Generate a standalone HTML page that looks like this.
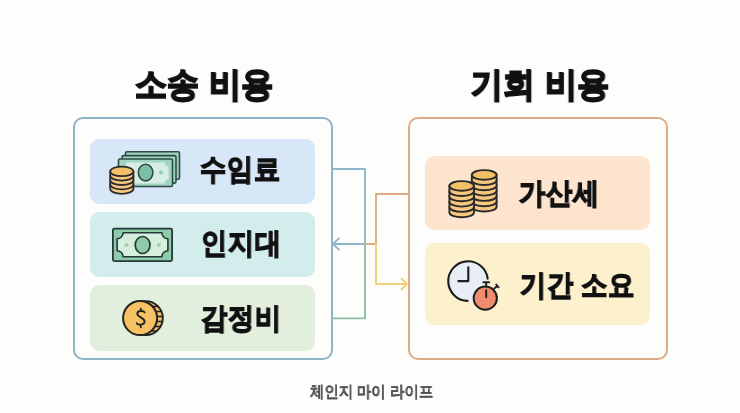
<!DOCTYPE html>
<html><head><meta charset="utf-8">
<style>
html,body{margin:0;padding:0;}
body{width:740px;height:413px;background:#fdfdfc;position:relative;overflow:hidden;font-family:"Liberation Sans",sans-serif;color:#111;}
.t{position:absolute;white-space:nowrap;line-height:1;transform-origin:0 0;will-change:transform;}
.box{position:absolute;box-sizing:border-box;border-radius:10px;}
.card{position:absolute;border-radius:9px;}
svg{position:absolute;left:0;top:0;}
</style></head>
<body>
<div class="t" style="left:135px;top:67px;font-size:34px;letter-spacing:0.4px;word-spacing:0px;-webkit-text-stroke:2.0px #111;color:#111;font-weight:700;transform:scaleX(0.94);">소송 비용</div>
<div class="t" style="left:471px;top:67px;font-size:34px;letter-spacing:0.4px;word-spacing:0px;-webkit-text-stroke:2.0px #111;color:#111;font-weight:700;transform:scaleX(0.94);">기회 비용</div>

<div class="box" style="left:73px;top:117px;width:260px;height:242.5px;border:2px solid #8db5c8;"></div>
<div class="box" style="left:408px;top:117px;width:260px;height:242.5px;border:2px solid #dcab88;"></div>

<div class="card" style="left:90px;top:139px;width:225px;height:65px;background:#d8e7f7;"></div>
<div class="card" style="left:90px;top:212px;width:225px;height:65px;background:#d2edec;"></div>
<div class="card" style="left:90px;top:285px;width:225px;height:66px;background:#e2efdc;"></div>

<div class="card" style="left:425px;top:156px;width:225px;height:74px;background:#fde4cf;"></div>
<div class="card" style="left:425px;top:243px;width:225px;height:82px;background:#fdf1cd;"></div>

<div class="t" style="left:200px;top:154.5px;font-size:28.5px;letter-spacing:0.8px;word-spacing:0px;-webkit-text-stroke:1.5px #111;color:#111;font-weight:700;transform:scaleX(0.9);">수임료</div>
<div class="t" style="left:200.5px;top:228.5px;font-size:28.5px;letter-spacing:0.8px;word-spacing:0px;-webkit-text-stroke:1.5px #111;color:#111;font-weight:700;transform:scaleX(0.9);">인지대</div>
<div class="t" style="left:200.5px;top:303.5px;font-size:28.5px;letter-spacing:0.8px;word-spacing:0px;-webkit-text-stroke:1.5px #111;color:#111;font-weight:700;transform:scaleX(0.9);">감정비</div>
<div class="t" style="left:519px;top:178.5px;font-size:28.5px;letter-spacing:0.8px;word-spacing:0px;-webkit-text-stroke:1.5px #111;color:#111;font-weight:700;transform:scaleX(0.9);">가산세</div>
<div class="t" style="left:519.5px;top:270.5px;font-size:28.5px;letter-spacing:0.8px;word-spacing:0px;-webkit-text-stroke:1.5px #111;color:#111;font-weight:700;transform:scaleX(0.9);">기간 소요</div>

<div class="t" style="left:310px;top:383.8px;font-size:15.5px;letter-spacing:0px;word-spacing:0px;-webkit-text-stroke:0.2px #555;color:#555;font-weight:700;transform:scaleX(0.9);">체인지 마이 라이프</div>

<svg width="740" height="413" viewBox="0 0 740 413" fill="none" stroke-width="1.9" stroke-linecap="round" stroke-linejoin="round">
<path d="M332 169 H365 V244" stroke="#8fb6ca"/>
<path d="M365 244 V318.4 H332" stroke="#8dc0a2"/>
<path d="M365 244 H333 M339 238.4 L333 244 L339 249.6" stroke="#8fb6ca"/>
<path d="M409 194 H376 V244 H365" stroke="#e0aa84"/>
<path d="M376 244 V284 H407 M401.5 278.5 L407 284 L401.5 289.5" stroke="#f2d07c"/>
<g>
<rect x="125.5" y="151.8" width="54" height="27.5" rx="1.5" fill="#a2d5c1" stroke="#2e4a46" stroke-width="1.6"/>
<rect x="122" y="155.6" width="54" height="27.5" rx="1.5" fill="#a2d5c1" stroke="#2e4a46" stroke-width="1.6"/>
<rect x="118.5" y="159" width="54" height="27.5" rx="1.5" fill="#a2d5c1" stroke="#2e4a46" stroke-width="1.6"/>
<path d="M126.5 162.5 H164.5 A4 4 0 0 0 168.5 166.5 V179.5 A4 4 0 0 0 164.5 183.5 H126.5 A4 4 0 0 0 122.5 179.5 V166.5 A4 4 0 0 0 126.5 162.5 Z" fill="#d8eee5"/>
<ellipse cx="145.6" cy="172.6" rx="7.3" ry="8.3" fill="#7cc0a6" stroke="#2e4a46" stroke-width="1.6"/>
<circle cx="161" cy="172.5" r="2" fill="#8fcab3"/>
<path d="M110.20 184.60 V189.00 A11.6 4.8 0 0 0 133.40 189.00 V184.60 Z" fill="#f5c77f" stroke="#2b2b2b" stroke-width="1.8"/>
<path d="M110.20 180.20 V184.60 A11.6 4.8 0 0 0 133.40 184.60 V180.20 Z" fill="#f5c77f" stroke="#2b2b2b" stroke-width="1.8"/>
<path d="M110.20 175.80 V180.20 A11.6 4.8 0 0 0 133.40 180.20 V175.80 Z" fill="#f5c77f" stroke="#2b2b2b" stroke-width="1.8"/>
<path d="M110.20 171.40 V175.80 A11.6 4.8 0 0 0 133.40 175.80 V171.40 Z" fill="#f5c77f" stroke="#2b2b2b" stroke-width="1.8"/>
<ellipse cx="121.8" cy="171.4" rx="11.6" ry="4.8" fill="#f3c067" stroke="#2b2b2b" stroke-width="1.8"/>
<rect x="112.9" y="228.7" width="59.2" height="32.4" rx="1.5" fill="#8fcaa9" stroke="#24393a" stroke-width="1.8"/>
<path d="M123.1 232.7 H161.9 A6 6 0 0 0 167.9 238.7 V250.8 A6 6 0 0 0 161.9 256.8 H123.1 A6 6 0 0 0 117.1 250.8 V238.7 A6 6 0 0 0 123.1 232.7 Z" fill="#d6eedc" stroke="#24393a" stroke-width="1.6"/>
<ellipse cx="142.6" cy="245" rx="7.4" ry="8.5" fill="#8fcaa9" stroke="#24393a" stroke-width="1.7"/>
<circle cx="126.5" cy="245" r="2.1" fill="#9fd0b5"/><circle cx="158.8" cy="245" r="2.1" fill="#9fd0b5"/>
<circle cx="145.79999999999998" cy="318.1" r="17" fill="#f5c264" stroke="#222" stroke-width="1.9"/>
<path d="M152.53 306.5 H158.23 M155.77 311.5 H161.47 M157.02 316.5 H162.72 M156.76 321.5 H162.46 M154.88 326.5 H160.58 M151.17 331 H156.87" stroke="#222" stroke-width="1.5"/>
<circle cx="140.1" cy="318.1" r="17" fill="#f6c263" stroke="#222" stroke-width="2"/>
<path d="M144.6 312.4 C143.6 310.4 137.3 310.2 137.3 313.8 C137.3 317.4 144.6 317.3 144.6 321.6 C144.6 325.3 137.6 325.4 136.7 323.2 M140.8 308.8 V310.5 M140.8 325.6 V327.3" fill="none" stroke="#222" stroke-width="1.9" stroke-linecap="round"/>
<path d="M471.80 201.40 V206.70 A12.4 4.8 0 0 0 496.60 206.70 V201.40 Z" fill="#f5c77f" stroke="#2a2a2a" stroke-width="1.9"/>
<path d="M471.80 196.10 V201.40 A12.4 4.8 0 0 0 496.60 201.40 V196.10 Z" fill="#f5c77f" stroke="#2a2a2a" stroke-width="1.9"/>
<path d="M471.80 190.80 V196.10 A12.4 4.8 0 0 0 496.60 196.10 V190.80 Z" fill="#f5c77f" stroke="#2a2a2a" stroke-width="1.9"/>
<path d="M471.80 185.50 V190.80 A12.4 4.8 0 0 0 496.60 190.80 V185.50 Z" fill="#f5c77f" stroke="#2a2a2a" stroke-width="1.9"/>
<path d="M471.80 180.20 V185.50 A12.4 4.8 0 0 0 496.60 185.50 V180.20 Z" fill="#f5c77f" stroke="#2a2a2a" stroke-width="1.9"/>
<path d="M471.80 174.90 V180.20 A12.4 4.8 0 0 0 496.60 180.20 V174.90 Z" fill="#f5c77f" stroke="#2a2a2a" stroke-width="1.9"/>
<ellipse cx="484.2" cy="174.9" rx="12.4" ry="4.8" fill="#f3c067" stroke="#2a2a2a" stroke-width="1.9"/>
<path d="M449.40 207.10 V212.40 A12.3 4.8 0 0 0 474.00 212.40 V207.10 Z" fill="#f5c77f" stroke="#2a2a2a" stroke-width="1.9"/>
<path d="M449.40 201.80 V207.10 A12.3 4.8 0 0 0 474.00 207.10 V201.80 Z" fill="#f5c77f" stroke="#2a2a2a" stroke-width="1.9"/>
<path d="M449.40 196.50 V201.80 A12.3 4.8 0 0 0 474.00 201.80 V196.50 Z" fill="#f5c77f" stroke="#2a2a2a" stroke-width="1.9"/>
<path d="M449.40 191.20 V196.50 A12.3 4.8 0 0 0 474.00 196.50 V191.20 Z" fill="#f5c77f" stroke="#2a2a2a" stroke-width="1.9"/>
<path d="M449.40 185.90 V191.20 A12.3 4.8 0 0 0 474.00 191.20 V185.90 Z" fill="#f5c77f" stroke="#2a2a2a" stroke-width="1.9"/>
<ellipse cx="461.7" cy="185.9" rx="12.3" ry="4.8" fill="#f3c067" stroke="#2a2a2a" stroke-width="1.9"/>
<circle cx="468" cy="281.1" r="19.8" fill="#e8eef6"/>
<path d="M467.6 300.9 A19.8 19.8 0 1 1 487.7 278.6" fill="none" stroke="#1d1d1d" stroke-width="2.1" stroke-linecap="round"/>
<path d="M468.3 267.6 V281.1 H458.6" fill="none" stroke="#1d1d1d" stroke-width="2.1" stroke-linecap="square"/>
<circle cx="485.3" cy="298.2" r="11.6" fill="#ef8c6e" stroke="#1d1d1d" stroke-width="2"/>
<path d="M486.2 282.6 V286.4 M483.4 282.3 H489.2 M494.2 288.4 L497.4 286 M496.2 284.6 L498.6 287.4 M486.2 290.2 V297.2" fill="none" stroke="#1d1d1d" stroke-width="1.9" stroke-linecap="round"/>
</g>
</svg>
</body></html>
